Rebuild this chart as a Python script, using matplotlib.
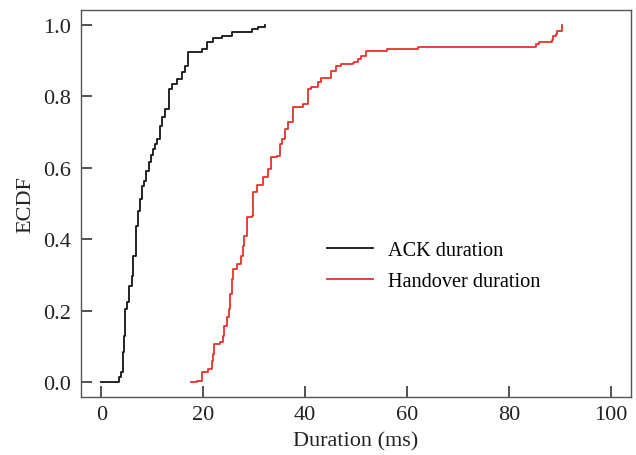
import matplotlib
matplotlib.use("Agg")
import matplotlib.pyplot as plt

# ECDF step corners (duration in ms, cumulative fraction)
ack_x = [0.0, 2.9, 3.4, 3.9, 4.25, 4.5, 4.7, 5.0, 5.5, 6.0, 6.3, 6.8, 7.1, 7.5, 8.0,
         8.3, 8.8, 9.3, 9.8, 10.2, 10.6, 11.0, 11.5, 12.0, 12.5, 13.2, 13.8, 14.8,
         15.8, 16.4, 17.1, 18.4, 19.7, 20.7, 22.0, 23.6, 25.6, 29.5, 30.8, 32.2]
ack_y = [0.0, 0.0, 0.013, 0.027, 0.083, 0.130, 0.204, 0.223, 0.270, 0.298, 0.354,
         0.438, 0.480, 0.513, 0.550, 0.564, 0.590, 0.615, 0.635, 0.653, 0.667, 0.681,
         0.717, 0.741, 0.765, 0.821, 0.835, 0.849, 0.868, 0.885, 0.924, 0.924, 0.933,
         0.953, 0.963, 0.970, 0.981, 0.989, 0.994, 1.0]

ho_x = [17.6, 18.7, 19.7, 21.0, 21.7, 22.0, 22.2, 23.3, 23.8, 24.1, 24.6, 25.1, 25.2,
        25.6, 25.9, 26.7, 27.5, 27.8, 28.0, 28.5, 29.5, 29.8, 30.5, 31.8, 32.7, 33.4,
        34.4, 35.0, 35.4, 36.0, 36.7, 37.6, 38.6, 39.6, 40.6, 41.2, 42.5, 43.2, 44.8,
        45.1, 46.0, 47.1, 49.4, 49.7, 50.4, 51.0, 51.9, 55.9, 56.0, 62.2, 84.9, 85.3,
        85.9, 88.5, 88.6, 89.2, 89.5, 90.5]
ho_y = [0.0, 0.004, 0.027, 0.036, 0.060, 0.078, 0.106, 0.111, 0.130, 0.158, 0.181,
        0.204, 0.246, 0.289, 0.317, 0.331, 0.354, 0.382, 0.410, 0.461, 0.466, 0.531,
        0.552, 0.573, 0.597, 0.629, 0.634, 0.667, 0.681, 0.709, 0.727, 0.769, 0.769,
        0.779, 0.821, 0.825, 0.839, 0.851, 0.851, 0.872, 0.886, 0.891, 0.893, 0.897,
        0.905, 0.912, 0.926, 0.926, 0.933, 0.939, 0.939, 0.947, 0.953, 0.959, 0.968,
        0.975, 0.984, 1.0]

x_ticks = [0, 20, 40, 60, 80, 100]
y_ticks = [0.0, 0.2, 0.4, 0.6, 0.8, 1.0]

plt.rcParams['font.family'] = ['Liberation Serif', 'DejaVu Serif']
plt.rcParams['font.size'] = 16

fig = plt.figure(figsize=(6.36, 4.56), dpi=100)
ax = fig.add_axes([81 / 636, 58 / 456, 550 / 636, 387 / 456])

ax.plot(ack_x, ack_y, drawstyle='steps-post', color='#141414', lw=1.3, label='ACK duration')
ax.plot(ho_x, ho_y, drawstyle='steps-post', color='#e3342a', lw=1.3, label='Handover duration')

ax.set_xlim(-4, 104)
ax.set_ylim(-0.042, 1.042)
ax.set_xticks(x_ticks)
ax.set_yticks(y_ticks)
ax.set_yticklabels([f'{v:.1f}' for v in y_ticks])
ax.tick_params(direction='in', length=8, width=1.1, pad=6, colors='#222222', labelsize=16)
ax.tick_params(axis='y', pad=7)
for s in ax.spines.values():
    s.set_linewidth(1.0)
    s.set_color('#555555')

ax.set_xlabel('Duration (ms)', labelpad=5, color='#222222')
ax.set_ylabel('ECDF', labelpad=6, color='#222222')

ax.legend(loc='upper left', bbox_to_anchor=(0.447, 0.404), frameon=False,
          borderaxespad=0, borderpad=0, handlelength=2.3, handletextpad=0.74,
          labelspacing=0.57, fontsize=14.6)

fig.savefig('out.png', dpi=100)
